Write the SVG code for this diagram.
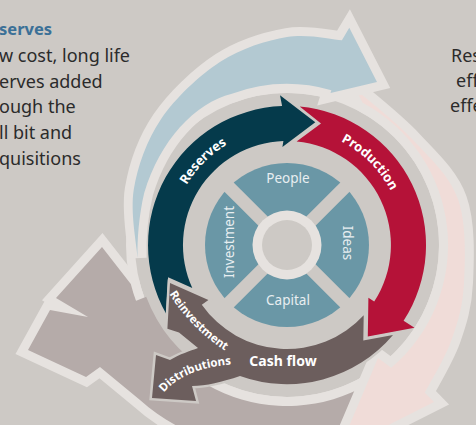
<svg xmlns="http://www.w3.org/2000/svg" width="476" height="425" viewBox="0 0 476 425">
  <defs>
    <style>
      .bg { fill: #cdc9c5; }
      .big { stroke: #e6e2df; stroke-width: 18; stroke-linejoin: miter; stroke-miterlimit: 10; paint-order: stroke; }
      .lbl { font-family: "Noto Sans", "Open Sans", sans-serif; font-weight: 700; fill: #ffffff; }
      .sec { font-family: "Noto Sans", "Open Sans", sans-serif; font-size: 13.5px; fill: #e8eef1; }
      .body { font-family: "Noto Sans", "Open Sans", sans-serif; font-size: 18px; fill: #2b2b2b; }
    </style>
    <path id="arcRes" d="M 170,245 A 117 117 0 0 1 287,128"/>
    <path id="arcProd" d="M 287,128 A 117 117 0 0 1 404,245"/>
    <path id="arcReinv" d="M 168,292 Q 190,328 227,352"/>
    <path id="arcDist" d="M 160,398 Q 180,367 238,364"/>
  </defs>

  <rect class="bg" x="0" y="0" width="476" height="425"/>

  <!-- side copy -->
  <g id="copy-left">
    <text x="-1" y="35" font-family="Noto Sans, sans-serif" font-size="16.5" font-weight="700" fill="#3b7097">serves</text>
    <text class="body" x="-1" y="62">w cost, long life</text>
    <text class="body" x="-1" y="88">erves added</text>
    <text class="body" x="-1" y="113">ough the</text>
    <text class="body" x="-1" y="139">ll bit and</text>
    <text class="body" x="-1" y="165">quisitions</text>
  </g>
  <g id="copy-right">
    <text class="body" x="451" y="62">Res</text>
    <text class="body" x="456" y="87">eff</text>
    <text class="body" x="450" y="112">effe</text>
  </g>

  <!-- wheel base -->
  <circle cx="287" cy="245" r="156.5" fill="#cdc9c5" stroke="#e6e2df" stroke-width="9"/>

  <!-- outer cycle arrows -->
  <g id="outer-arrows">
    <path id="outer-mauve" class="big" fill="#b5aba9" d="M 367.5,384.4 L 352,445 C 320,455 250,452 210,440 C 185,432 160,418 140,400 L 100,367 L 86,377 L 28,350 L 50,310 L 88,317 L 56,298 L 102,247 L 130.8,283.9 A 161 161 0 0 0 367.5,384.4 Z"/>
    <path id="outer-mauve-inner" fill="#b5aba9" d="M 200.6,383.2 A 163 163 0 0 1 133.7,301.7 L 146.2,296.8 A 149 149 0 0 0 208.0,371.4 Z"/>
    <path id="outer-pink" class="big" fill="#f0dcd8" d="M 362.6,102.8 L 356.1,89.7 C 365.5,98 395.6,121.4 412.6,139.6 C 429.6,157.9 449.4,175.4 458,199.2 C 466.6,223 465.1,259.1 464,282.6 C 462.9,306.1 458,321.7 451.5,340 C 445,358.4 429.3,383.9 424.8,392.7 L 434,402 L 339,450 L 378,358 L 391.2,367.8 A 161 161 0 0 0 362.6,102.8 Z"/>
    <path id="outer-blue" class="big" fill="#b3c9d2" d="M 137.6,258.1 C 137,246.6 129.9,212.5 133.8,189.3 C 137.7,166.1 146.7,140.4 161.1,119.1 C 175.5,97.9 199.3,75.5 220.3,61.8 C 241.3,48.1 266.7,40.6 287,37 C 307.3,33.4 332.8,39.7 341.9,40.2 L 349.3,27.8 L 377,82 L 330.5,93.1 L 331.4,90.2 A 161 161 0 0 0 231.9,93.7 C 195,103 160,140 144.2,193 C 139,215 137,240 137.6,258.1 Z"/>
  </g>

  <!-- central quadrants -->
  <g id="quadrants">
    <circle cx="287" cy="245" r="82" fill="#6a97a6"/>
    <rect x="187" y="238.5" width="200" height="13" fill="#cdc9c5" transform="rotate(45 287 245)"/>
    <rect x="187" y="238.5" width="200" height="13" fill="#cdc9c5" transform="rotate(-45 287 245)"/>
    <circle cx="287" cy="245" r="34.5" fill="#e6e2df"/>
    <circle cx="287" cy="245" r="25" fill="#cdc9c5"/>
  </g>
  <g id="q-people"><text class="sec" x="288" y="183" text-anchor="middle">People</text></g>
  <g id="q-capital"><text class="sec" x="288" y="305" text-anchor="middle">Capital</text></g>
  <g id="q-investment"><text class="sec" transform="translate(234,242) rotate(-90)" text-anchor="middle">Investment</text></g>
  <g id="q-ideas"><text class="sec" transform="translate(343,243) rotate(90)" text-anchor="middle">Ideas</text></g>

  <!-- main cycle arrows -->
  <g id="reserves">
    <path fill="#053a4b" d="M 166,313.4 A 139 139 0 0 1 282.1,106.1 L 280,95.2 L 315.3,122.2 L 282.4,147.1 L 283.4,141.1 A 104 104 0 0 0 192.3,288.1 L 168.1,277.3 Z"/>
    <text class="lbl" font-size="13"><textPath href="#arcRes" startOffset="50%" text-anchor="middle">Reserves</textPath></text>
  </g>
  <g id="production">
    <path fill="#b51238" d="M 299.7,106.6 A 139 139 0 0 1 403.6,320.7 L 414.5,327.8 L 367.8,336.4 L 368.4,297.8 L 374.2,301.6 A 104 104 0 0 0 296.6,141.5 L 321,123.5 Z"/>
    <text class="lbl" font-size="13"><textPath href="#arcProd" startOffset="50%" text-anchor="middle">Production</textPath></text>
  </g>
  <g id="cash-flow">
    <path fill="#6c5e5d" stroke="#cdc9c5" stroke-width="5" paint-order="stroke" stroke-linejoin="miter"
      d="M 393,335 A 139 139 0 0 1 240,376 C 222,382 206,386 192,386 L 196,401 L 152,398 L 156,355 L 170,360 C 180,354 190,351 198,348 L 179,332.5 L 167.4,328.7 L 170,283 L 208.4,300.1 L 201.8,304.7 A 104 104 0 0 0 363.7,315.2 L 363.3,340.4 Z"/>
    <text class="lbl" font-size="14" x="283" y="366" text-anchor="middle">Cash flow</text>
    <text class="lbl" font-size="11.5"><textPath href="#arcReinv" startOffset="50%" text-anchor="middle">Reinvestment</textPath></text>
    <text class="lbl" font-size="11.5"><textPath href="#arcDist" startOffset="50%" text-anchor="middle">Distributions</textPath></text>
  </g>
</svg>
